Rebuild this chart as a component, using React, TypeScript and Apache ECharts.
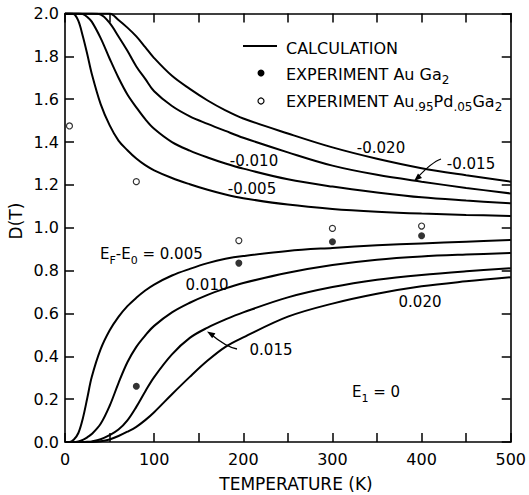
import React, { useEffect, useRef } from "react";
import * as echarts from "echarts";

// Temperatures (K) at which the calculated curves were read
const temperatures = [0, 5, 10, 15, 20, 25, 30, 40, 50, 60, 70, 80, 90, 100, 120, 140, 160, 180, 200, 250, 300, 350, 400, 450, 500];

// Calculated D(T), E_F - E_0 < 0 (upper branch)
const calcNeg005 = [2.0, 2.0, 1.997, 1.965, 1.894, 1.81, 1.719, 1.577, 1.479, 1.407, 1.362, 1.323, 1.292, 1.268, 1.232, 1.203, 1.177, 1.155, 1.138, 1.108, 1.088, 1.075, 1.066, 1.06, 1.055];
const calcNeg010 = [2.0, 2.0, 2.0, 2.0, 1.997, 1.984, 1.962, 1.885, 1.79, 1.7, 1.622, 1.562, 1.507, 1.462, 1.4, 1.36, 1.328, 1.3, 1.276, 1.226, 1.192, 1.165, 1.142, 1.127, 1.114];
const calcNeg015 = [2.0, 2.0, 2.0, 2.0, 2.0, 2.0, 2.0, 1.995, 1.956, 1.893, 1.826, 1.753, 1.695, 1.637, 1.568, 1.52, 1.485, 1.452, 1.42, 1.352, 1.29, 1.247, 1.215, 1.186, 1.16];
const calcNeg020 = [2.0, 2.0, 2.0, 2.0, 2.0, 2.0, 2.0, 2.0, 2.0, 1.97, 1.934, 1.893, 1.843, 1.792, 1.709, 1.648, 1.594, 1.548, 1.51, 1.44, 1.375, 1.322, 1.278, 1.245, 1.215];

// Calculated D(T), E_F - E_0 > 0 (lower branch)
const calcPos005 = [0, 0, 0.012, 0.042, 0.11, 0.205, 0.303, 0.433, 0.52, 0.584, 0.634, 0.673, 0.707, 0.735, 0.777, 0.808, 0.835, 0.855, 0.868, 0.892, 0.906, 0.918, 0.927, 0.935, 0.943];
const calcPos010 = [0, 0, 0, 0.003, 0.01, 0.022, 0.037, 0.085, 0.168, 0.275, 0.372, 0.444, 0.497, 0.542, 0.605, 0.65, 0.687, 0.717, 0.742, 0.79, 0.826, 0.851, 0.866, 0.875, 0.882];
const calcPos015 = [0, 0, 0, 0, 0, 0.001, 0.003, 0.013, 0.032, 0.058, 0.101, 0.164, 0.236, 0.303, 0.409, 0.486, 0.534, 0.572, 0.605, 0.675, 0.723, 0.757, 0.78, 0.797, 0.811];
const calcPos020 = [0, 0, 0, 0, 0, 0, 0, 0.003, 0.012, 0.028, 0.048, 0.071, 0.102, 0.139, 0.223, 0.304, 0.38, 0.444, 0.488, 0.585, 0.646, 0.692, 0.727, 0.75, 0.769];

// Experimental points
const expAuGa2Temps = [80, 195, 300, 400];
const expAuGa2Values = [0.26, 0.835, 0.935, 0.963];
const expAuPdGa2Temps = [5, 80, 195, 300, 400];
const expAuPdGa2Values = [1.475, 1.215, 0.94, 0.997, 1.008];

const FONT = "DejaVu Sans";

const curves = [calcNeg005, calcNeg010, calcNeg015, calcNeg020, calcPos005, calcPos010, calcPos015, calcPos020];

function rt(size: number) {
  return {
    n: { fontFamily: FONT, fontSize: size, color: "#000" },
    s: { fontFamily: FONT, fontSize: size - 4, color: "#000", padding: [12, 0, 0, 0] },
  };
}

function label(text: string, x: number, y: number, align: string = "center", size = 15) {
  return {
    type: "text",
    x,
    y,
    style: {
      text,
      fontFamily: FONT,
      fontSize: size,
      fill: "#000",
      align,
      verticalAlign: "middle",
    },
  };
}

function richLabel(text: string, x: number, y: number, size = 15) {
  return {
    type: "text",
    x,
    y,
    style: {
      text,
      rich: rt(size),
      fontFamily: FONT,
      fontSize: size,
      fill: "#000",
      align: "left",
      verticalAlign: "middle",
    },
  };
}

export default function App() {
  const ref = useRef<HTMLDivElement>(null);

  useEffect(() => {
    if (!ref.current) return;
    const chart = echarts.init(ref.current, undefined, { renderer: "svg" });

    const axisCommon = {
      type: "value",
      axisLine: { show: true, onZero: false, lineStyle: { color: "#000", width: 1.6 } },
      axisTick: { show: true, inside: true, length: 9, lineStyle: { color: "#000", width: 1.5 } },
      splitLine: { show: false },
    };

    const lineSeries = curves.map((arr) => ({
      type: "line",
      data: temperatures.map((t, i) => [t, arr[i]]),
      showSymbol: false,
      smooth: 0.35,
      lineStyle: { color: "#000", width: 2 },
      silent: true,
    }));

    chart.setOption({
      animation: false,
      backgroundColor: "#fff",
      grid: { left: 65, right: 18, top: 13.5, bottom: 53, containLabel: false },
      xAxis: [
        {
          ...axisCommon,
          min: 0,
          max: 500,
          interval: 50,
          position: "bottom",
          axisLabel: {
            color: "#000",
            fontFamily: FONT,
            fontSize: 16,
            margin: 9,
            showMaxLabel: true,
            showMinLabel: true,
            formatter: (v: number) => (v % 100 === 0 ? String(v) : ""),
          },
        },
        {
          ...axisCommon,
          min: 0,
          max: 500,
          interval: 50,
          position: "top",
          axisLabel: { show: false },
        },
      ],
      yAxis: [
        {
          ...axisCommon,
          min: 0,
          max: 2,
          interval: 0.2,
          position: "left",
          axisLabel: {
            color: "#000",
            fontFamily: FONT,
            fontSize: 16,
            margin: 6,
            formatter: (v: number) => v.toFixed(1),
          },
        },
        {
          ...axisCommon,
          min: 0,
          max: 2,
          interval: 0.2,
          position: "right",
          axisLabel: { show: false },
        },
      ],
      series: [
        ...lineSeries,
        {
          type: "scatter",
          data: expAuGa2Temps.map((t, i) => [t, expAuGa2Values[i]]),
          symbol: "circle",
          symbolSize: 7,
          itemStyle: { color: "#000" },
        },
        {
          type: "scatter",
          data: expAuPdGa2Temps.map((t, i) => [t, expAuPdGa2Values[i]]),
          symbol: "circle",
          symbolSize: 6,
          itemStyle: { color: "#fff", borderColor: "#000", borderWidth: 1.2 },
        },
      ],
      graphic: [
        // axis titles
        label("TEMPERATURE (K)", 296, 483.5, "center", 17),
        {
          type: "text",
          x: 15.5,
          y: 221,
          rotation: Math.PI / 2,
          style: { text: "D(T)", fontFamily: FONT, fontSize: 17, fill: "#000", align: "center", verticalAlign: "middle" },
        },
        // legend
        { type: "line", shape: { x1: 243, y1: 46, x2: 277, y2: 46 }, style: { stroke: "#000", lineWidth: 2 } },
        label("CALCULATION", 286, 48, "left", 16),
        { type: "circle", shape: { cx: 261, cy: 73, r: 3.5 }, style: { fill: "#000" } },
        richLabel("{n|EXPERIMENT Au Ga}{s|2}", 286, 74, 16),
        { type: "circle", shape: { cx: 261, cy: 101, r: 3 }, style: { fill: "#fff", stroke: "#000", lineWidth: 1.2 } },
        richLabel("{n|EXPERIMENT Au}{s|.95}{n|Pd}{s|.05}{n|Ga}{s|2}", 286, 101, 16),
        // curve annotations
        label("-0.020", 381, 148),
        label("-0.015", 471, 164),
        label("-0.010", 254, 161),
        label("-0.005", 252, 188.5),
        richLabel("{n|E}{s|F}{n|-E}{s|0}{n| = 0.005}", 100, 254),
        label("0.010", 207, 285),
        label("0.015", 271, 350),
        label("0.020", 420, 302),
        richLabel("{n|E}{s|1}{n| = 0}", 352, 392),
        // arrows
        {
          type: "bezierCurve",
          shape: { x1: 441, y1: 159, x2: 417, y2: 178, cpx1: 432, cpy1: 162 },
          style: { stroke: "#000", lineWidth: 1.3, fill: null },
        },
        { type: "polygon", shape: { points: [[414, 181], [422, 178], [418, 173.5]] }, style: { fill: "#000" } },
        {
          type: "bezierCurve",
          shape: { x1: 237, y1: 349, x2: 210, y2: 333.5, cpx1: 226, cpy1: 347 },
          style: { stroke: "#000", lineWidth: 1.3, fill: null },
        },
        { type: "polygon", shape: { points: [[207, 331.5], [215.4, 333.2], [212.2, 338.3]] }, style: { fill: "#000" } },
      ],
    });

    return () => chart.dispose();
  }, []);

  return <div ref={ref} style={{ position: "absolute", left: 0, top: 0, width: 529, height: 495 }} />;
}
